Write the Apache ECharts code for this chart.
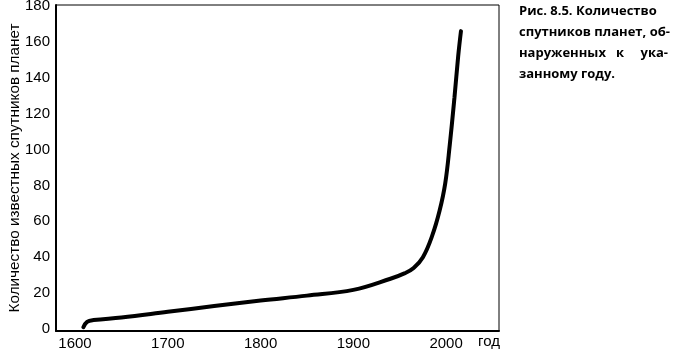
<!DOCTYPE html>
<html><head><meta charset="utf-8">
<script src="https://cdn.jsdelivr.net/npm/echarts@6/dist/echarts.min.js"></script>
<style>html,body{margin:0;padding:0;background:#fff}#c{width:673px;height:351px}</style>
</head><body><div id="c"></div>
<script>
const years = [1609, 1613, 1620, 1650, 1700, 1750, 1800, 1850, 1900, 1940, 1955, 1965, 1975, 1985, 1993, 1999, 2004, 2009, 2013, 2016];
const counts = [1, 4, 5, 6.4, 9.6, 12.8, 15.9, 18.6, 21.8, 28, 31, 34, 40, 52, 66, 81, 103, 129, 152, 166];
const xTicks = [1600, 1700, 1800, 1900, 2000];
const yTicks = [0, 20, 40, 60, 80, 100, 120, 140, 160, 180];
const yTitle = 'Количество известных спутников планет';
const xUnit = 'год';
const captionLines = ['Рис. 8.5. Количество', 'спутников планет, об-', ['наруженных', 'к', 'ука-'], 'занному году.'];

const chart = echarts.init(document.getElementById('c'));
const capFont = 'bold 13px "Open Sans", "Noto Sans", sans-serif';
const graphics = [];
const capX = 519, capX2 = 668;
captionLines.forEach((ln, i) => {
  const y = 11 + i * 21;
  if (Array.isArray(ln)) {
    graphics.push({type:'text', x: capX, y: y, style:{text: ln[0], font: capFont, fill:'#000', textVerticalAlign:'middle', textAlign:'left'}});
    graphics.push({type:'text', x: 620, y: y, style:{text: ln[1], font: capFont, fill:'#000', textVerticalAlign:'middle', textAlign:'center'}});
    graphics.push({type:'text', x: capX2, y: y, style:{text: ln[2], font: capFont, fill:'#000', textVerticalAlign:'middle', textAlign:'right'}});
  } else {
    graphics.push({type:'text', x: capX, y: y, style:{text: ln, font: capFont, fill:'#000', textVerticalAlign:'middle', textAlign:'left'}});
  }
});
graphics.push({type:'text', x: 478, y: 342, style:{text: xUnit, font: '15px "Liberation Sans", Arial, sans-serif', fill:'#000', textVerticalAlign:'middle', textAlign:'left'}});

chart.setOption({
  animation: false,
  grid: {left: 56, right: 174, top: 5, bottom: 20, show: true, borderColor: '#000', borderWidth: 1, outerBoundsMode: 'none', containLabel: false},
  xAxis: {
    type: 'value', min: 1579.5, max: 2057,
    axisLine: {show: true, onZero: false, lineStyle: {color: '#000', width: 2}},
    axisTick: {show: false},
    splitLine: {show: false},
    axisLabel: {customValues: xTicks, formatter: v => String(v), color: '#000', fontSize: 15, fontFamily: '"Liberation Sans", Arial, sans-serif', margin: 5}
  },
  yAxis: {
    type: 'value', min: -1.11, max: 180.56,
    name: yTitle, nameLocation: 'middle', nameRotate: 90, nameGap: 34, nameMoveOverlap: false,
    nameTextStyle: {color: '#000', fontSize: 15.3, fontFamily: '"Liberation Sans", Arial, sans-serif'},
    axisLine: {show: true, onZero: false, lineStyle: {color: '#000', width: 2}},
    axisTick: {show: false},
    splitLine: {show: false},
    axisLabel: {customValues: yTicks, formatter: v => String(v), color: '#000', fontSize: 15, fontFamily: '"Liberation Sans", Arial, sans-serif', margin: 6}
  },
  series: [{
    type: 'line', smooth: 0.4, symbol: 'none',
    data: years.map((y, i) => [y, counts[i]]),
    lineStyle: {color: '#000', width: 4, cap: 'round'}
  }],
  graphic: graphics
});
</script></body></html>
